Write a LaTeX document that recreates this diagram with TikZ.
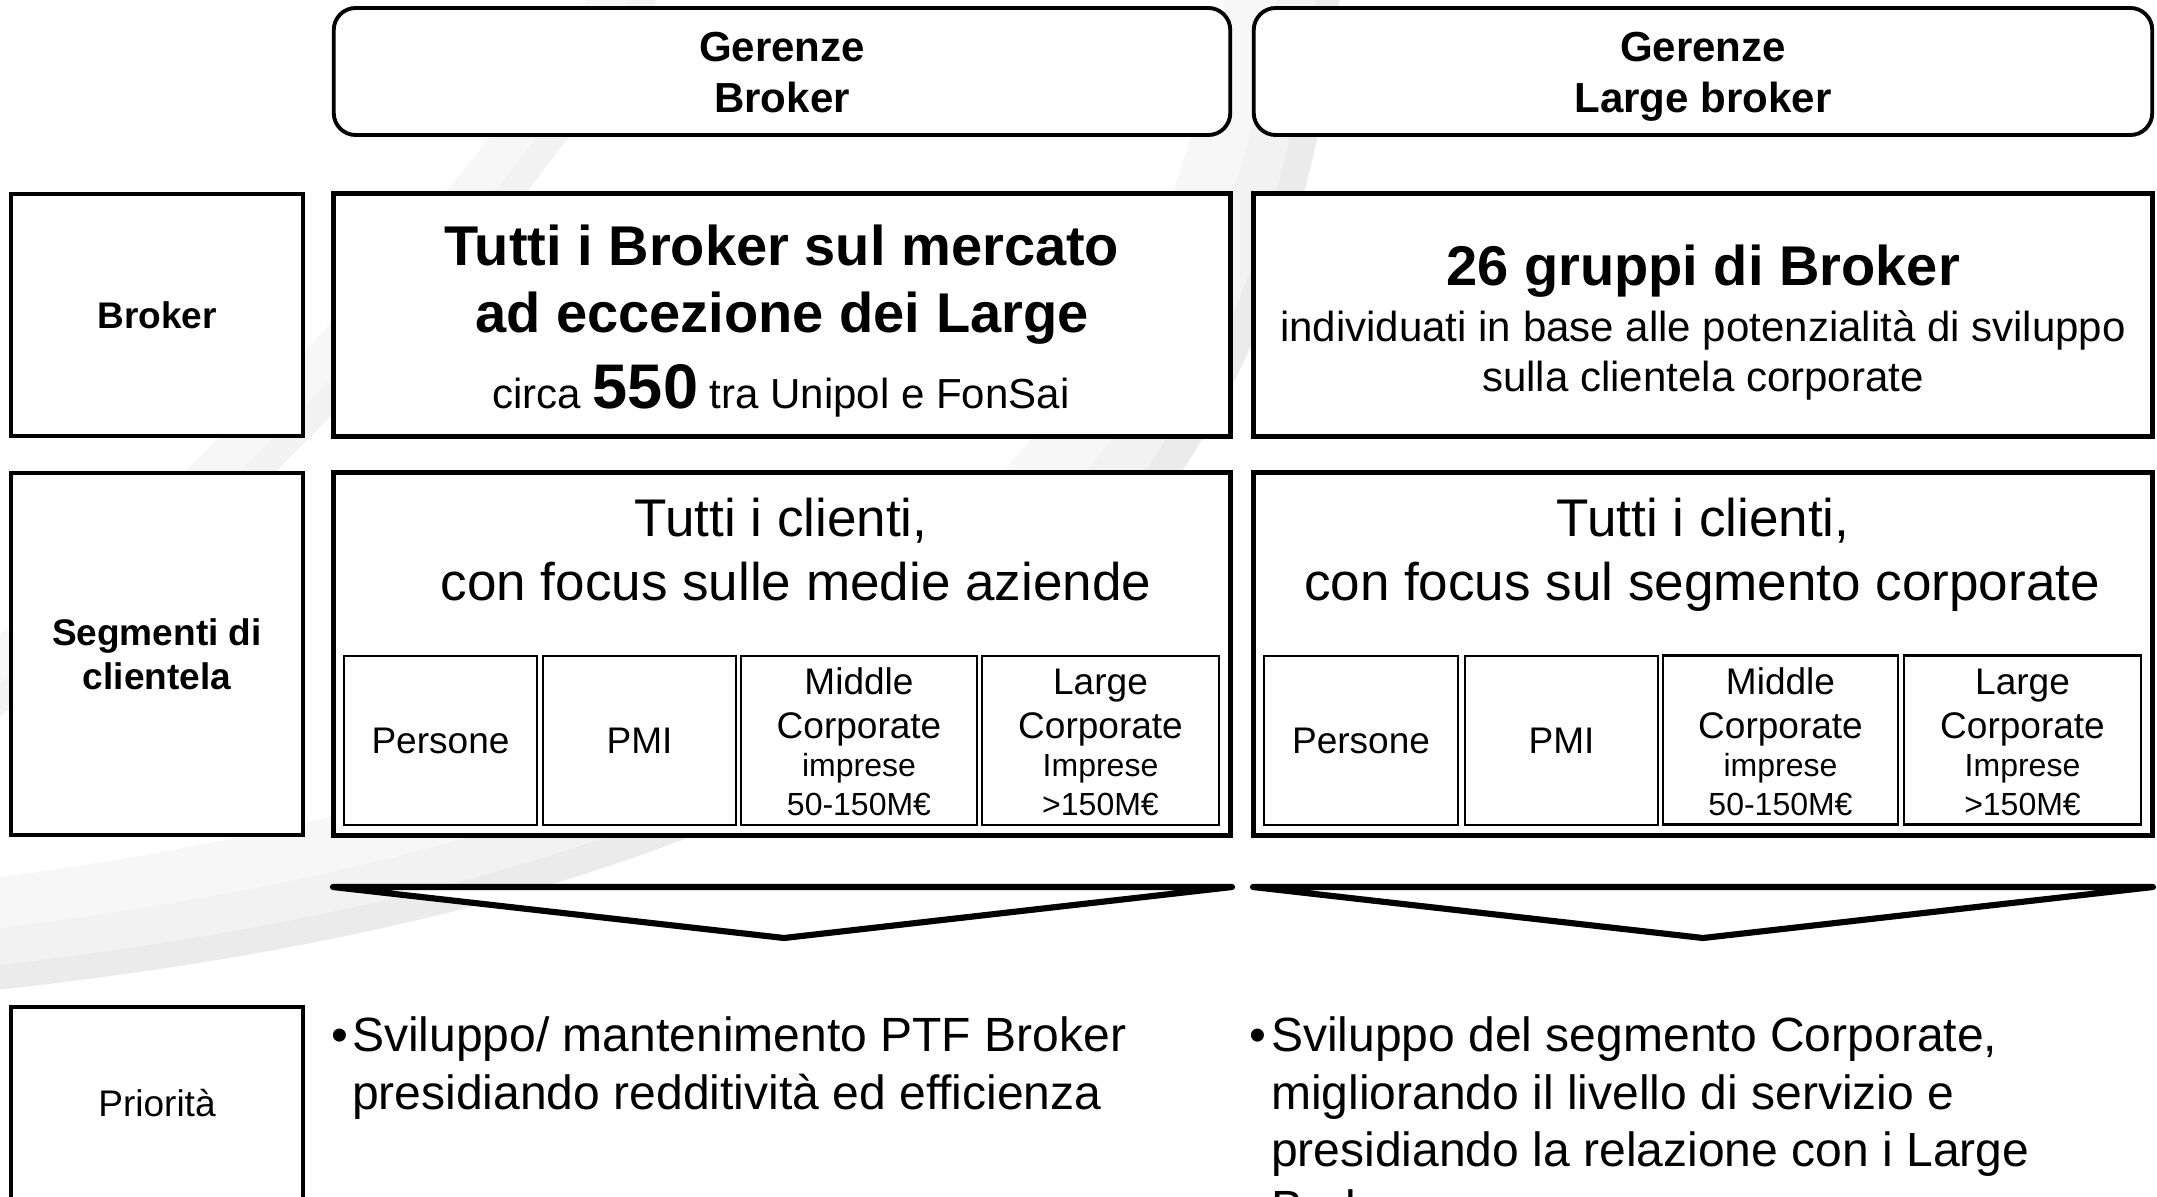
\documentclass[tikz,border=0pt]{standalone}
\usepackage{fontspec}
\setmainfont{Liberation Sans}
\newcommand{\sza}{\fontsize{11.95pt}{14.5pt}\selectfont}
\newcommand{\szb}{\fontsize{10.53pt}{12.52pt}\selectfont}
\newcommand{\szc}{\fontsize{15.93pt}{19.1pt}\selectfont}
\newcommand{\szd}{\fontsize{17.93pt}{21.5pt}\selectfont}
\newcommand{\sze}{\fontsize{15.08pt}{18.1pt}\selectfont}
\newcommand{\szf}{\fontsize{9.1pt}{10.9pt}\selectfont}
\newcommand{\szg}{\fontsize{13.66pt}{16.4pt}\selectfont}
\newcommand{\bandB}[2]{\fill[#2] (1340,-5) .. controls (1280,520) and (1000,880) .. (-5,990) -- ({-5-#1},{990-#1}) .. controls ({1000-#1},{880-#1}) and ({1280-#1},{520-#1}) .. ({1340-#1},{-5-#1}) -- cycle;}
\newcommand{\bandA}[2]{\fill[#2] (660,-5) .. controls (560,180) and (300,480) .. (-5,720) -- ({-5-#1},{720-#1}) .. controls ({300-#1},{480-#1}) and ({560-#1},{180-#1}) .. ({660-#1},{-5-#1}) -- cycle;}
\begin{document}
\begin{tikzpicture}[x=0.01cm, y=-0.01cm,
  roundbox/.style={draw, line width=1.1pt, rounded corners=0.22cm, fill=white, inner sep=0pt, outer sep=0pt},
  mainbox/.style={draw, line width=1.45pt, fill=white, inner sep=0pt, outer sep=0pt},
  labelbox/.style={draw, line width=1.15pt, fill=white, inner sep=0pt, outer sep=0pt, align=center},
  subbox/.style={draw, line width=0.55pt, fill=white, inner sep=0pt, outer sep=0pt, align=center, minimum height=1.69cm},
  subboxb/.style={subbox, line width=0.8pt},
  chev/.style={draw, line width=1.75pt, line join=round, fill=white},
  txt/.style={inner sep=0pt, outer sep=0pt, anchor=base},
  ltxt/.style={inner sep=0pt, outer sep=0pt, anchor=base west},
]
\useasboundingbox (0,0) rectangle (2157,1197);
\begin{scope}
\clip (0,0) rectangle (2157,1197);
\fill[white] (0,0) rectangle (2157,1197);
% background swooshes
\bandA{45}{black!3}
\bandA{18}{black!5}
\bandB{100}{black!3}
\bandB{55}{black!5}
\bandB{22}{black!8}

% header boxes
\node[roundbox, minimum width=8.96cm, minimum height=1.27cm] (gerL) at (782,71.5) {};
\node[roundbox, minimum width=8.98cm, minimum height=1.27cm] (gerR) at (1703,71.5) {};
\node[txt, font=\sza\bfseries] (gerLa) at (782,62) {Gerenze};
\node[txt, font=\sza\bfseries] (gerLb) at (782,113) {Broker};
\node[txt, font=\sza\bfseries] (gerRa) at (1703,62) {Gerenze};
\node[txt, font=\sza\bfseries] (gerRb) at (1703,113) {Large broker};

% row labels
\node[labelbox, minimum width=2.92cm, minimum height=2.42cm, font=\szb\bfseries] (lbBroker) at (157,315) {Broker};
\node[labelbox, minimum width=2.92cm, minimum height=3.62cm, font=\szb\bfseries] (lbSeg) at (157,654) {Segmenti di\\clientela};
\node[labelbox, minimum width=2.92cm, minimum height=2.53cm] (lbPri) at (157,1133.5) {};
\node[txt, font=\szb] (lbPriT) at (157,1116) {Priorità};

% broker row
\node[mainbox, minimum width=8.96cm, minimum height=2.42cm] (brL) at (782,315) {};
\node[mainbox, minimum width=8.98cm, minimum height=2.42cm] (brR) at (1703,315) {};
\node[txt, font=\szc\bfseries] (brL1) at (782,265) {Tutti i Broker sul mercato};
\node[txt, font=\szc\bfseries] (brL2) at (782,332) {ad eccezione dei Large};
\node[txt, font=\sza] (brL3) at (781,408) {circa {\szd\bfseries 550} tra Unipol e FonSai};
\node[txt, font=\szc\bfseries] (brR1) at (1703,285) {26 gruppi di Broker};
\node[txt, font=\sza] (brR2) at (1703,341) {individuati in base alle potenzialità di sviluppo};
\node[txt, font=\sza] (brR3) at (1703,391) {sulla clientela corporate};

% segment row
\node[mainbox, minimum width=8.96cm, minimum height=3.62cm] (segL) at (782,654) {};
\node[mainbox, minimum width=8.98cm, minimum height=3.62cm] (segR) at (1703,654) {};
\node[txt, font=\sze] (segL1) at (781,536) {Tutti i clienti,};
\node[txt, font=\sze] (segL2) at (796,600) {con focus sulle medie aziende};
\node[txt, font=\sze] (segR1) at (1703,536) {Tutti i clienti,};
\node[txt, font=\sze] (segR2) at (1702,600) {con focus sul segmento corporate};

% sub boxes left
\node[subbox, minimum width=1.93cm, font=\szb] (sL1) at (440.5,740.5) {Persone};
\node[subbox, minimum width=1.93cm, font=\szb] (sL2) at (639.5,740.5) {PMI};
\node[subbox, minimum width=2.36cm] (sL3) at (859,740.5) {};
\node[subbox, minimum width=2.37cm] (sL4) at (1100.5,740.5) {};
\node[txt, font=\szb] (sL3a) at (859,694) {Middle};
\node[txt, font=\szb] (sL3b) at (859,738) {Corporate};
\node[txt, font=\szf] (sL3c) at (859,776) {imprese};
\node[txt, font=\szf] (sL3d) at (859,815) {50-150M€};
\node[txt, font=\szb] (sL4a) at (1100.5,694) {Large};
\node[txt, font=\szb] (sL4b) at (1100.5,738) {Corporate};
\node[txt, font=\szf] (sL4c) at (1100.5,776) {Imprese};
\node[txt, font=\szf] (sL4d) at (1100.5,815) {>150M€};

% sub boxes right
\node[subbox, minimum width=1.94cm, font=\szb] (sR1) at (1361,740.5) {Persone};
\node[subbox, minimum width=1.93cm, font=\szb] (sR2) at (1561.5,740.5) {PMI};
\node[subboxb, minimum width=2.35cm] (sR3) at (1780.5,740) {};
\node[subboxb, minimum width=2.37cm] (sR4) at (2022.5,740) {};
\node[txt, font=\szb] (sR3a) at (1780.5,694) {Middle};
\node[txt, font=\szb] (sR3b) at (1780.5,738) {Corporate};
\node[txt, font=\szf] (sR3c) at (1780.5,776) {imprese};
\node[txt, font=\szf] (sR3d) at (1780.5,815) {50-150M€};
\node[txt, font=\szb] (sR4a) at (2022.5,694) {Large};
\node[txt, font=\szb] (sR4b) at (2022.5,738) {Corporate};
\node[txt, font=\szf] (sR4c) at (2022.5,776) {Imprese};
\node[txt, font=\szf] (sR4d) at (2022.5,815) {>150M€};

% chevrons
\coordinate (cLa) at (333,887);
\coordinate (cLb) at (1232,887);
\coordinate (cLc) at (784,938);
\coordinate (cRa) at (1253,887);
\coordinate (cRb) at (2153,887);
\coordinate (cRc) at (1703,938);
\draw[chev] (cLa) -- (cLb) -- (cLc) -- cycle;
\draw[chev] (cRa) -- (cRb) -- (cRc) -- cycle;

% priorities
\node[ltxt, font=\szg] (pL0) at (331,1051) {•};
\node[ltxt, font=\szg] (pL1) at (352,1051) {Sviluppo/ mantenimento PTF Broker};
\node[ltxt, font=\szg] (pL2) at (352,1109) {presidiando redditività ed efficienza};
\node[ltxt, font=\szg] (pR0) at (1249,1051) {•};
\node[ltxt, font=\szg] (pR1) at (1271,1051) {Sviluppo del segmento Corporate,};
\node[ltxt, font=\szg] (pR2) at (1271,1109) {migliorando il livello di servizio e};
\node[ltxt, font=\szg] (pR3) at (1271,1166) {presidiando la relazione con i Large};
\node[ltxt, font=\szg] (pR4) at (1271,1224) {Broker};
\end{scope}
\end{tikzpicture}
\end{document}
